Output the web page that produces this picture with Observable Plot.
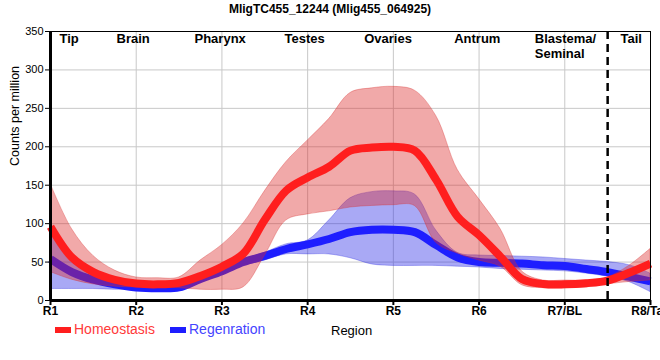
<!DOCTYPE html>
<html>
<head>
<meta charset="utf-8">
<script src="https://cdn.jsdelivr.net/npm/d3@7"></script>
<script src="https://cdn.jsdelivr.net/npm/@observablehq/plot@0.6"></script>
<style>
  html, body { margin: 0; padding: 0; background: #fff; }
  #wrap { position: relative; width: 660px; height: 360px; overflow: hidden; font-family: "Liberation Sans", Arial, sans-serif; }
  #title { height: 20px; line-height: 18px; text-align: center; font-weight: bold; font-size: 12px; color: #000; }
  #chart svg { display: block; }
  .leg { position: absolute; font-size: 14px; white-space: nowrap; }
  .sw { position: absolute; width: 16px; height: 6px; }
</style>
</head>
<body>
<div id="wrap">
  <div id="title"></div>
  <div id="chart"></div>
  <div id="legend"></div>
</div>
<script>
const titleText = "MligTC455_12244 (Mlig455_064925)";
const yLabel = "Counts per million";
const xLabel = "Region";
const tickPos = [1, 2, 3, 4, 5, 6, 7, 8];
const tickLabels = ["R1", "R2", "R3", "R4", "R5", "R6", "R7/BL", "R8/Tail"];
const yTicks = [0, 50, 100, 150, 200, 250, 300, 350];
const regionNames = ["Tip", "Brain", "Pharynx", "Testes", "Ovaries", "Antrum", "Blastema/\nSeminal", "Tail"];
const regionX = [1.105, 1.77, 2.68, 3.73, 4.66, 5.71, 6.65, 7.65];
const divider = [7.5];
const seriesNames = ["Homeostasis", "Regenration"];

const xs = [1, 1.25, 1.5, 1.75, 2, 2.25, 2.5, 2.75, 3, 3.25, 3.5, 3.75, 4, 4.25, 4.5, 4.75, 5, 5.25, 5.5, 5.75, 6, 6.25, 6.5, 6.75, 7, 7.25, 7.5, 7.75, 8];
const homMean  = [96, 56, 37, 27, 22, 21, 23, 32, 44, 61, 105, 143, 160, 174, 195, 199, 200, 195, 157, 109, 85, 57, 28, 21.5, 21, 22.5, 26, 36, 48];
const homUpper = [152, 93, 58, 39, 30, 29, 30, 52, 72, 100, 142, 180, 208, 236, 270, 276, 278, 273, 240, 170, 132, 93, 38, 26, 26, 26, 30, 45, 67];
const homLower = [37, 27, 21, 18, 17, 17, 16, 14, 14, 17, 58, 104, 112, 116, 121, 123, 124, 123, 75, 61, 52, 44, 20, 16, 16, 17, 21, 24, 26];
const regMean  = [54, 37, 27, 21, 17, 16, 17, 28, 38, 50, 58, 67, 73, 80, 89, 92, 92, 89, 72, 56, 50, 49, 48, 46, 45, 41, 37, 31, 25];
const regUpper = [90, 58, 36, 25, 20, 19, 20, 30, 42, 53, 62, 73, 78, 104, 133, 141, 142, 138, 91, 62, 58.5, 58, 57, 56, 54, 52, 50, 46, 35];
const regLower = [15, 15, 15, 14, 14, 14, 15, 25, 35, 45, 52, 60, 60, 60, 55, 47, 45, 45, 45, 44, 43, 41, 40, 39, 38, 35, 31, 24, 11];

const hom = xs.map((x, i) => ({x, mean: homMean[i], lo: homLower[i], hi: homUpper[i]}));
const reg = xs.map((x, i) => ({x, mean: regMean[i], lo: regLower[i], hi: regUpper[i]}));
const regions = regionNames.map((name, i) => ({name, x: regionX[i]}));

const RED = "#ff1e1e", BLUE = "#1e1eff";

document.getElementById("title").textContent = titleText;

const chart = Plot.plot({
  width: 660,
  height: 300,
  marginTop: 11,
  marginBottom: 20,
  marginLeft: 50,
  marginRight: 10,
  style: {fontFamily: "Liberation Sans, Arial, sans-serif", color: "#000", background: "#fff"},
  x: {domain: [1, 8]},
  y: {domain: [0, 350]},
  marks: [
    Plot.gridY(yTicks, {stroke: "#c8c8c8", strokeOpacity: 1, strokeWidth: 1}),
    Plot.gridX(tickPos, {stroke: "#c8c8c8", strokeOpacity: 1, strokeWidth: 1}),
    Plot.areaY(reg, {x: "x", y1: "lo", y2: "hi", fill: "#2828e6", fillOpacity: 0.4, stroke: "#3030e0", strokeOpacity: 0.35, strokeWidth: 1, curve: "catmull-rom"}),
    Plot.line(reg, {x: "x", y: "mean", stroke: BLUE, strokeWidth: 8, curve: "catmull-rom", strokeLinecap: "butt"}),
    Plot.areaY(hom, {x: "x", y1: "lo", y2: "hi", fill: "#dc2828", fillOpacity: 0.4, stroke: "#d83030", strokeOpacity: 0.35, strokeWidth: 1, curve: "catmull-rom"}),
    Plot.line(hom, {x: "x", y: "mean", stroke: RED, strokeWidth: 8, curve: "catmull-rom", strokeLinecap: "butt"}),
    Plot.ruleX(divider, {stroke: "#000", strokeWidth: 2.5, strokeDasharray: "8,5"}),
    Plot.frame({stroke: "#000", strokeWidth: 1}),
    Plot.ruleX([1], {stroke: "#000", strokeWidth: 3}),
    Plot.ruleY([0], {stroke: "#000", strokeWidth: 3}),
    Plot.axisY(yTicks, {tickSize: 5, tickPadding: 2, fontSize: 11, label: null, stroke: "#000"}),
    Plot.axisX(tickPos, {tickSize: 5, tickPadding: 1, fontSize: 12, fontWeight: "bold", label: null, stroke: "#000", strokeWidth: 2, tickFormat: (d, i) => tickLabels[tickPos.indexOf(d)]}),
    Plot.text([yLabel], {frameAnchor: "left", rotate: -90, dx: -36, fontSize: 12.5, fill: "#000"}),
    Plot.text(regions, {x: "x", text: "name", frameAnchor: "top", lineAnchor: "top", textAnchor: "start", dy: 2, fontSize: 13, fontWeight: "bold", lineHeight: 1.08, fill: "#000"})
  ]
});
document.getElementById("chart").appendChild(chart);

const legend = document.getElementById("legend");
const items = [
  {name: seriesNames[0], color: RED, text: "#ff3a3a", sw: 55, tx: 74},
  {name: seriesNames[1], color: BLUE, text: "#4444ff", sw: 170, tx: 189}
];
items.forEach(it => {
  const s = document.createElement("div");
  s.className = "sw";
  s.style.left = it.sw + "px"; s.style.top = "327px"; s.style.background = it.color;
  legend.appendChild(s);
  const t = document.createElement("div");
  t.className = "leg";
  t.style.left = it.tx + "px"; t.style.top = "321px"; t.style.color = it.text;
  t.textContent = it.name;
  legend.appendChild(t);
});
const rl = document.createElement("div");
rl.className = "leg";
rl.style.left = "331px"; rl.style.top = "323px"; rl.style.color = "#000";
rl.style.fontSize = "13px";
rl.textContent = xLabel;
legend.appendChild(rl);
</script>
</body>
</html>
